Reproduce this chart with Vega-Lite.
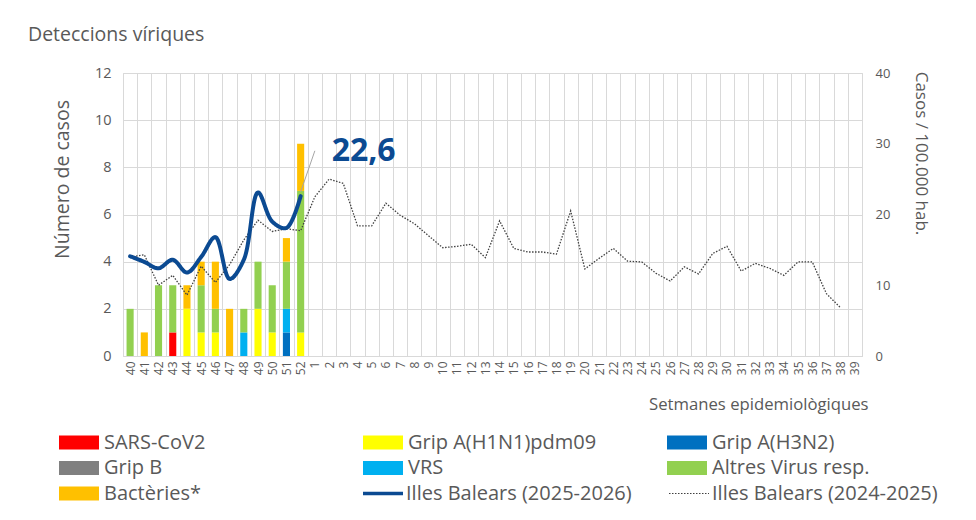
{
  "$schema": "https://vega.github.io/schema/vega-lite/v6.json",
  "width": 739,
  "height": 283,
  "autosize": {"type": "none"},
  "padding": {"left": 123, "top": 73, "right": 114, "bottom": 164},
  "background": "white",
  "config": {
    "font": "Open Sans",
    "view": {"stroke": "#d9d9d9", "strokeWidth": 1},
    "axis": {"labelColor": "#595959", "titleColor": "#595959", "titleFontWeight": "normal", "labelFont": "Open Sans", "titleFont": "Open Sans"},
    "legend": {"labelColor": "#595959", "labelFont": "Open Sans", "labelFontSize": 20, "labelLimit": 400, "padding": 0}
  },
  "title": {
    "text": "Deteccions víriques",
    "anchor": "start",
    "frame": "group",
    "dx": -95,
    "offset": 20,
    "fontSize": 19.5,
    "fontWeight": "normal",
    "color": "#595959"
  },
  "datasets": {
    "barres": [
      {"setmana": "40", "serie": "Altres Virus resp.", "casos": 2},
      {"setmana": "41", "serie": "Bactèries*", "casos": 1},
      {"setmana": "42", "serie": "Altres Virus resp.", "casos": 3},
      {"setmana": "43", "serie": "SARS-CoV2", "casos": 1},
      {"setmana": "43", "serie": "Altres Virus resp.", "casos": 2},
      {"setmana": "44", "serie": "Grip A(H1N1)pdm09", "casos": 2},
      {"setmana": "44", "serie": "Bactèries*", "casos": 1},
      {"setmana": "45", "serie": "Grip A(H1N1)pdm09", "casos": 1},
      {"setmana": "45", "serie": "Altres Virus resp.", "casos": 2},
      {"setmana": "45", "serie": "Bactèries*", "casos": 1},
      {"setmana": "46", "serie": "Grip A(H1N1)pdm09", "casos": 1},
      {"setmana": "46", "serie": "Altres Virus resp.", "casos": 1},
      {"setmana": "46", "serie": "Bactèries*", "casos": 2},
      {"setmana": "47", "serie": "Bactèries*", "casos": 2},
      {"setmana": "48", "serie": "VRS", "casos": 1},
      {"setmana": "48", "serie": "Altres Virus resp.", "casos": 1},
      {"setmana": "49", "serie": "Grip A(H1N1)pdm09", "casos": 2},
      {"setmana": "49", "serie": "Altres Virus resp.", "casos": 2},
      {"setmana": "50", "serie": "Grip A(H1N1)pdm09", "casos": 1},
      {"setmana": "50", "serie": "Altres Virus resp.", "casos": 2},
      {"setmana": "51", "serie": "Grip A(H3N2)", "casos": 1},
      {"setmana": "51", "serie": "VRS", "casos": 1},
      {"setmana": "51", "serie": "Altres Virus resp.", "casos": 2},
      {"setmana": "51", "serie": "Bactèries*", "casos": 1},
      {"setmana": "52", "serie": "Grip A(H1N1)pdm09", "casos": 1},
      {"setmana": "52", "serie": "Altres Virus resp.", "casos": 6},
      {"setmana": "52", "serie": "Bactèries*", "casos": 2}
    ],
    "taxes": [
      {"setmana": "40", "serie": "Illes Balears (2025-2026)", "taxa": 14.1},
      {"setmana": "41", "serie": "Illes Balears (2025-2026)", "taxa": 13.3},
      {"setmana": "42", "serie": "Illes Balears (2025-2026)", "taxa": 12.4},
      {"setmana": "43", "serie": "Illes Balears (2025-2026)", "taxa": 13.6},
      {"setmana": "44", "serie": "Illes Balears (2025-2026)", "taxa": 11.8},
      {"setmana": "45", "serie": "Illes Balears (2025-2026)", "taxa": 14.0},
      {"setmana": "46", "serie": "Illes Balears (2025-2026)", "taxa": 16.8},
      {"setmana": "47", "serie": "Illes Balears (2025-2026)", "taxa": 10.9},
      {"setmana": "48", "serie": "Illes Balears (2025-2026)", "taxa": 13.6},
      {"setmana": "49", "serie": "Illes Balears (2025-2026)", "taxa": 23.1},
      {"setmana": "50", "serie": "Illes Balears (2025-2026)", "taxa": 19.0},
      {"setmana": "51", "serie": "Illes Balears (2025-2026)", "taxa": 18.1},
      {"setmana": "52", "serie": "Illes Balears (2025-2026)", "taxa": 22.6},
      {"setmana": "40", "serie": "Illes Balears (2024-2025)", "taxa": 14.0},
      {"setmana": "41", "serie": "Illes Balears (2024-2025)", "taxa": 14.3},
      {"setmana": "42", "serie": "Illes Balears (2024-2025)", "taxa": 10.0},
      {"setmana": "43", "serie": "Illes Balears (2024-2025)", "taxa": 11.4},
      {"setmana": "44", "serie": "Illes Balears (2024-2025)", "taxa": 8.6},
      {"setmana": "45", "serie": "Illes Balears (2024-2025)", "taxa": 12.7},
      {"setmana": "46", "serie": "Illes Balears (2024-2025)", "taxa": 10.4},
      {"setmana": "47", "serie": "Illes Balears (2024-2025)", "taxa": 12.9},
      {"setmana": "48", "serie": "Illes Balears (2024-2025)", "taxa": 16.4},
      {"setmana": "49", "serie": "Illes Balears (2024-2025)", "taxa": 19.2},
      {"setmana": "50", "serie": "Illes Balears (2024-2025)", "taxa": 17.6},
      {"setmana": "51", "serie": "Illes Balears (2024-2025)", "taxa": 18.0},
      {"setmana": "52", "serie": "Illes Balears (2024-2025)", "taxa": 17.7},
      {"setmana": "1", "serie": "Illes Balears (2024-2025)", "taxa": 22.5},
      {"setmana": "2", "serie": "Illes Balears (2024-2025)", "taxa": 25.0},
      {"setmana": "3", "serie": "Illes Balears (2024-2025)", "taxa": 24.4},
      {"setmana": "4", "serie": "Illes Balears (2024-2025)", "taxa": 18.4},
      {"setmana": "5", "serie": "Illes Balears (2024-2025)", "taxa": 18.4},
      {"setmana": "6", "serie": "Illes Balears (2024-2025)", "taxa": 21.6},
      {"setmana": "7", "serie": "Illes Balears (2024-2025)", "taxa": 19.9},
      {"setmana": "8", "serie": "Illes Balears (2024-2025)", "taxa": 18.7},
      {"setmana": "9", "serie": "Illes Balears (2024-2025)", "taxa": 17.0},
      {"setmana": "10", "serie": "Illes Balears (2024-2025)", "taxa": 15.3},
      {"setmana": "11", "serie": "Illes Balears (2024-2025)", "taxa": 15.5},
      {"setmana": "12", "serie": "Illes Balears (2024-2025)", "taxa": 15.8},
      {"setmana": "13", "serie": "Illes Balears (2024-2025)", "taxa": 13.9},
      {"setmana": "14", "serie": "Illes Balears (2024-2025)", "taxa": 19.1},
      {"setmana": "15", "serie": "Illes Balears (2024-2025)", "taxa": 15.2},
      {"setmana": "16", "serie": "Illes Balears (2024-2025)", "taxa": 14.7},
      {"setmana": "17", "serie": "Illes Balears (2024-2025)", "taxa": 14.7},
      {"setmana": "18", "serie": "Illes Balears (2024-2025)", "taxa": 14.4},
      {"setmana": "19", "serie": "Illes Balears (2024-2025)", "taxa": 20.5},
      {"setmana": "20", "serie": "Illes Balears (2024-2025)", "taxa": 12.3},
      {"setmana": "21", "serie": "Illes Balears (2024-2025)", "taxa": 13.8},
      {"setmana": "22", "serie": "Illes Balears (2024-2025)", "taxa": 15.2},
      {"setmana": "23", "serie": "Illes Balears (2024-2025)", "taxa": 13.4},
      {"setmana": "24", "serie": "Illes Balears (2024-2025)", "taxa": 13.3},
      {"setmana": "25", "serie": "Illes Balears (2024-2025)", "taxa": 11.7},
      {"setmana": "26", "serie": "Illes Balears (2024-2025)", "taxa": 10.6},
      {"setmana": "27", "serie": "Illes Balears (2024-2025)", "taxa": 12.6},
      {"setmana": "28", "serie": "Illes Balears (2024-2025)", "taxa": 11.6},
      {"setmana": "29", "serie": "Illes Balears (2024-2025)", "taxa": 14.5},
      {"setmana": "30", "serie": "Illes Balears (2024-2025)", "taxa": 15.5},
      {"setmana": "31", "serie": "Illes Balears (2024-2025)", "taxa": 12.0},
      {"setmana": "32", "serie": "Illes Balears (2024-2025)", "taxa": 13.1},
      {"setmana": "33", "serie": "Illes Balears (2024-2025)", "taxa": 12.4},
      {"setmana": "34", "serie": "Illes Balears (2024-2025)", "taxa": 11.4},
      {"setmana": "35", "serie": "Illes Balears (2024-2025)", "taxa": 13.3},
      {"setmana": "36", "serie": "Illes Balears (2024-2025)", "taxa": 13.3},
      {"setmana": "37", "serie": "Illes Balears (2024-2025)", "taxa": 8.8},
      {"setmana": "38", "serie": "Illes Balears (2024-2025)", "taxa": 6.8}
    ],
    "guia": [
      {"setmana": "52", "taxa": 23.2},
      {"setmana": "1", "taxa": 29.0}
    ],
    "etiqueta": [
      {"setmana": "52", "taxa": 22.6, "text": "22,6"}
    ]
  },
  "layer": [
    {
      "data": {"name": "barres"},
      "transform": [
        {"calculate": "indexof(['SARS-CoV2','Grip A(H1N1)pdm09','Grip A(H3N2)','Grip B','VRS','Altres Virus resp.','Bactèries*'], datum.serie)", "as": "k"}
      ],
      "mark": {"type": "bar", "width": {"band": 0.5}},
      "encoding": {
        "x": {
          "field": "setmana",
          "type": "ordinal",
          "sort": null,
          "scale": {
            "domain": ["40","41","42","43","44","45","46","47","48","49","50","51","52","1","2","3","4","5","6","7","8","9","10","11","12","13","14","15","16","17","18","19","20","21","22","23","24","25","26","27","28","29","30","31","32","33","34","35","36","37","38","39"],
            "paddingInner": 0,
            "paddingOuter": 0
          },
          "axis": {
            "title": "Setmanes epidemiològiques",
            "titleAnchor": "end",
            "titleAlign": "right",
            "titleX": 745,
            "titleFontSize": 16.7,
            "titlePadding": 22,
            "labelAngle": -90,
            "labelFontSize": 12,
            "labelPadding": 5,
            "grid": true,
            "gridColor": "#d9d9d9",
            "tickBand": "extent",
            "ticks": false,
            "domainColor": "#d9d9d9"
          }
        },
        "y": {
          "field": "casos",
          "type": "quantitative",
          "stack": "zero",
          "scale": {"domain": [0, 12], "nice": false},
          "axis": {
            "title": "Número de casos",
            "values": [0, 2, 4, 6, 8, 10, 12],
            "grid": true,
            "gridColor": "#d9d9d9",
            "domain": false,
            "ticks": false,
            "labelFontSize": 14.5,
            "labelPadding": 12,
            "titleFontSize": 19.5,
            "titlePadding": 22,
            "titleY": 106
          }
        },
        "fill": {
          "field": "serie",
          "type": "nominal",
          "scale": {
            "domain": ["SARS-CoV2","Grip A(H1N1)pdm09","Grip A(H3N2)","Grip B","VRS","Altres Virus resp.","Bactèries*"],
            "range": ["#ff0000","#ffff00","#0070c0","#808080","#00b0f0","#92d050","#ffc000"]
          },
          "legend": {
            "orient": "none",
            "legendX": -67,
            "legendY": 359.5,
            "columns": 3,
            "direction": "horizontal",
            "title": null,
            "symbolType": "M-1,-1H4.714V1H-1Z",
            "symbolSize": 196,
            "symbolStrokeWidth": 0,
            "labelOffset": 28,
            "columnPadding": 67,
            "rowPadding": 5.5,
            "gridAlign": "all"
          }
        },
        "order": {"field": "k", "type": "quantitative", "sort": "ascending"}
      }
    },
    {
      "layer": [
        {
          "data": {"name": "taxes"},
          "transform": [{"filter": "datum.serie === 'Illes Balears (2024-2025)'"}],
          "mark": {"type": "line", "strokeWidth": 1.3},
          "encoding": {
            "x": {"field": "setmana", "type": "ordinal", "sort": null},
            "y": {
              "field": "taxa",
              "type": "quantitative",
              "scale": {"domain": [0, 40], "nice": false},
              "axis": {
                "orient": "right",
                "title": "Casos / 100.000 hab.",
                "values": [0, 5, 10, 15, 20, 25, 30, 35, 40],
                "grid": false,
                "domain": false,
                "ticks": false,
                "labelFontSize": 13,
                "labelPadding": 13,
                "titleFontSize": 17,
                "titlePadding": 22,
                "titleY": 80
              }
            },
            "stroke": {
              "field": "serie",
              "type": "nominal",
              "scale": {"domain": ["Illes Balears (2025-2026)", "Illes Balears (2024-2025)"], "range": ["#0b4a92", "#404040"]},
              "legend": {
                "orient": "none",
                "legendX": 237,
                "legendY": 410.5,
                "columns": 2,
                "direction": "horizontal",
                "title": null,
                "symbolType": "M-1,0H4.714",
                "symbolSize": 196,
                "labelOffset": 26,
                "columnPadding": 34,
                "gridAlign": "all",
                "encode": {
                  "symbols": {
                    "update": {
                      "strokeWidth": {"signal": "datum.value === 'Illes Balears (2025-2026)' ? 3.5 : 1.2"}
                    }
                  }
                }
              }
            },
            "strokeDash": {
              "field": "serie",
              "type": "nominal",
              "scale": {"domain": ["Illes Balears (2025-2026)", "Illes Balears (2024-2025)"], "range": [[1, 0], [1.5, 1.5]]},
              "legend": {
                "orient": "none",
                "legendX": 237,
                "legendY": 410.5,
                "columns": 2,
                "direction": "horizontal",
                "title": null,
                "symbolType": "M-1,0H4.714",
                "symbolSize": 196,
                "labelOffset": 26,
                "columnPadding": 34,
                "gridAlign": "all"
              }
            }
          }
        },
        {
          "data": {"name": "taxes"},
          "transform": [{"filter": "datum.serie === 'Illes Balears (2025-2026)'"}],
          "mark": {"type": "line", "strokeWidth": 4, "interpolate": "catmull-rom", "strokeCap": "round", "strokeJoin": "round"},
          "encoding": {
            "x": {"field": "setmana", "type": "ordinal", "sort": null},
            "y": {"field": "taxa", "type": "quantitative"},
            "stroke": {"field": "serie", "type": "nominal"},
            "strokeDash": {"field": "serie", "type": "nominal"}
          }
        },
        {
          "data": {"name": "guia"},
          "mark": {"type": "line", "color": "#a6a6a6", "strokeWidth": 1},
          "encoding": {
            "x": {"field": "setmana", "type": "ordinal", "sort": null},
            "y": {"field": "taxa", "type": "quantitative"}
          }
        },
        {
          "data": {"name": "etiqueta"},
          "mark": {"type": "text", "align": "left", "baseline": "middle", "dx": 31, "dy": -45, "fontSize": 32, "fontWeight": "bold", "color": "#0b4a92", "font": "Open Sans"},
          "encoding": {
            "x": {"field": "setmana", "type": "ordinal", "sort": null},
            "y": {"field": "taxa", "type": "quantitative"},
            "text": {"field": "text"}
          }
        }
      ]
    }
  ],
  "resolve": {"scale": {"y": "independent"}}
}
